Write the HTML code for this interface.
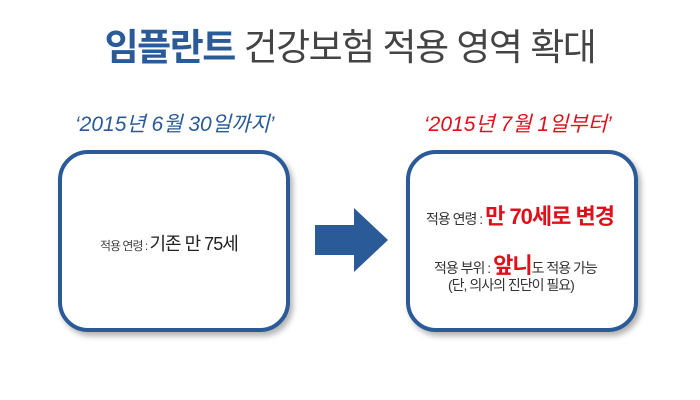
<!DOCTYPE html>
<html><head><meta charset="utf-8"><style>
body{margin:0;width:700px;height:400px;background:#fff;position:relative;overflow:hidden;font-family:"Liberation Sans","Noto Sans CJK KR",sans-serif}
.t{position:absolute;white-space:nowrap}
.box{position:absolute;width:224px;height:174px;border:4px solid #2b5a98;border-radius:30px;background:#fff;box-shadow:3px 4px 6px rgba(0,0,0,0.3)}
</style></head><body>
<div class="t" style="left:0;width:700px;top:22px;text-align:center;font-size:37px;color:#444;letter-spacing:-1.5px;line-height:52px"><b style="color:#2b5a98">임플란트</b> 건강보험 적용 영역 확대</div>
<div class="t" style="left:75px;top:108px;font-size:21px;color:#2b5a98;font-style:italic">‘2015년 6월 30일까지’</div>
<div class="t" style="left:424px;top:108px;font-size:21px;color:#e0101a;font-style:italic">‘2015년 7월 1일부터’</div>
<div class="box" style="left:58px;top:150px"></div>
<div class="box" style="left:406px;top:150px"></div>
<div class="t" style="left:100px;top:230px;font-size:12px;color:#444;letter-spacing:-1px">적용 연령 : <span style="font-size:18px;color:#222">기존 만 75세</span></div>
<svg style="position:absolute;left:0;top:0" width="700" height="400"><polygon points="315,225 354,225 354,208 388,240 354,272 354,255 315,255" fill="#2b5a98"/></svg>
<div class="t" style="left:426px;top:199px;font-size:14px;color:#333;letter-spacing:-1px">적용 연령 : <b style="font-size:22px;color:#e0101a">만 70세로 변경</b></div>
<div class="t" style="left:434px;top:248px;font-size:14px;color:#333;letter-spacing:-1px">적용 부위 : <b style="font-size:22px;color:#e0101a">앞니</b>도 적용 가능</div>
<div class="t" style="left:448px;top:275px;font-size:14px;color:#333;letter-spacing:-1px">(단, 의사의 진단이 필요)</div>
</body></html>
